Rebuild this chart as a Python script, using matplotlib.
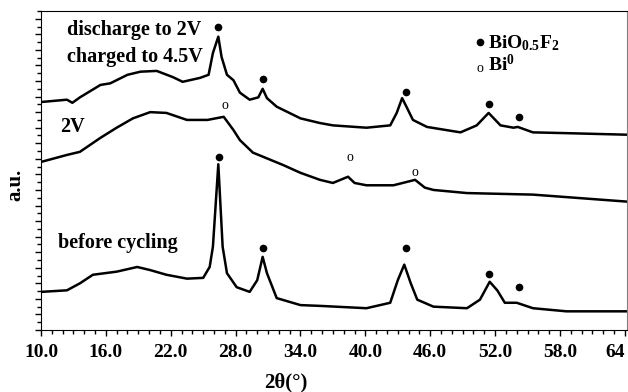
import matplotlib
matplotlib.use("Agg")
import matplotlib.pyplot as plt
import numpy as np
from matplotlib.ticker import MultipleLocator

plt.rcParams["font.family"] = ["Liberation Serif", "DejaVu Serif"]
plt.rcParams["font.weight"] = "bold"
plt.rcParams["mathtext.fontset"] = "custom"
plt.rcParams["mathtext.rm"] = "Liberation Serif:bold"
plt.rcParams["mathtext.bf"] = "Liberation Serif:bold"

# charged to 4.5V (top)
x_top = [10.0, 12.4, 12.9, 13.6, 15.5, 16.4, 18.0, 19.2, 20.7, 22.2, 23.1, 24.7, 25.5,
         25.9, 26.4, 26.7, 27.2, 27.8, 28.4, 29.3, 30.1, 30.5, 30.9, 31.8, 34.0, 35.8,
         37.0, 40.1, 42.3, 42.9, 43.4, 43.8, 44.4, 45.7, 48.8, 50.3, 51.4, 52.5, 53.7,
         54.1, 55.5, 58.6, 64.2]
y_top = [29.3, 29.6, 29.2, 29.9, 31.5, 31.7, 32.8, 33.2, 33.3, 32.5, 31.9, 32.4, 32.8,
         35.6, 37.7, 35.1, 32.8, 32.1, 30.5, 29.6, 29.9, 31.0, 29.8, 28.7, 27.2, 26.6,
         26.3, 26.0, 26.3, 27.9, 29.8, 28.7, 27.0, 26.1, 25.4, 26.3, 27.9, 26.3, 26.0,
         26.1, 25.4, 25.3, 25.1]

# 2V (middle)
x_mid = [10.0, 12.4, 13.6, 15.5, 17.0, 18.5, 20.1, 21.6, 23.5, 25.4, 26.9, 27.8, 28.4,
         29.6, 32.4, 34.0, 35.8, 37.0, 38.4, 39.0, 40.1, 42.6, 44.6, 45.5, 46.3, 49.4,
         55.5, 64.2]
y_mid = [21.6, 22.5, 22.9, 24.7, 26.0, 27.2, 28.0, 27.9, 27.0, 27.0, 27.4, 25.7, 24.4,
         22.8, 21.2, 20.2, 19.3, 18.9, 19.7, 18.9, 18.6, 18.6, 19.3, 18.3, 18.0, 17.6,
         17.4, 16.5]

# before cycling (bottom)
x_bot = [10.0, 12.4, 13.6, 14.8, 17.0, 18.9, 20.1, 21.6, 23.5, 25.0, 25.6, 25.9, 26.4,
         26.8, 27.2, 28.1, 29.3, 30.0, 30.5, 30.9, 31.8, 34.0, 35.8, 40.1, 42.3, 43.0,
         43.6, 44.2, 44.8, 46.3, 49.4, 50.6, 51.5, 52.2, 52.9, 54.0, 55.5, 58.6, 64.2]
y_bot = [4.9, 5.1, 6.0, 7.1, 7.5, 8.1, 7.7, 7.1, 6.6, 6.7, 8.1, 10.7, 21.3,
         10.7, 7.3, 5.5, 4.9, 6.4, 9.4, 7.3, 4.1, 3.2, 3.1, 2.8, 3.5, 6.4,
         8.4, 6.0, 3.9, 3.0, 2.8, 3.9, 6.2, 5.1, 3.5, 3.5, 2.8, 2.4, 2.4]

# BiO0.5F2 peak markers (filled dots)
dot_x = [26.4, 30.5, 43.8, 51.4, 54.2, 26.5, 30.5, 43.8, 51.4, 54.2]
dot_y = [38.9, 32.3, 30.6, 29.0, 27.4, 22.2, 10.5, 10.5, 7.2, 5.5]
# Bi0 markers (letter o)
bi_x = [27.0, 38.6, 44.6]
bi_y = [28.8, 22.2, 20.3]

xticks = [10, 16, 22, 28, 34, 40, 46, 52, 58, 64]
xticklabels = ["10.0", "16.0", "22.0", "28.0", "34.0", "40.0", "46.0", "52.0", "58.0", "64"]

fig = plt.figure(figsize=(6.28, 3.92), dpi=100)
ax = fig.add_axes([41 / 628, 62 / 392, 586 / 628, 319 / 392])

for xs, ys in [(x_top, y_top), (x_mid, y_mid), (x_bot, y_bot)]:
    ax.plot(xs, ys, color="black", lw=1.8)

ax.plot(dot_x, dot_y, "o", color="black", ms=4.5)
for bx, by in zip(bi_x, bi_y):
    ax.text(bx, by, "o", ha="center", va="center", fontsize=10, fontweight="normal")

ax.set_xlim(10, 64.2)
ax.set_ylim(0, 41)
ax.set_xticks(xticks)
ax.set_xticklabels(xticklabels, fontsize=14, fontweight="bold")
ax.get_xticklabels()[-1].set_horizontalalignment("right")
ax.xaxis.set_minor_locator(MultipleLocator(1))
ax.yaxis.set_major_locator(MultipleLocator(2))
ax.yaxis.set_minor_locator(MultipleLocator(1))
ax.set_yticklabels([])
ax.tick_params(axis="both", which="major", direction="out", length=4, width=1)
ax.tick_params(axis="both", which="minor", direction="out", length=3, width=1)
ax.tick_params(axis="x", pad=6)
ax.spines["right"].set_color("gray")

ax.text(12.4, 38.6, "discharge to 2V", fontsize=14.5, fontweight="bold", va="center")
ax.text(12.4, 35.1, "charged to 4.5V", fontsize=14.5, fontweight="bold", va="center")
ax.text(11.8, 26.1, "2V", fontsize=14.5, fontweight="bold", va="center")
ax.text(11.6, 11.2, "before cycling", fontsize=14.5, fontweight="bold", va="center")

ax.plot([50.6], [37.0], "o", color="black", ms=4.5)
ax.text(51.3, 36.2, r"$\mathrm{BiO_{0.5}F_2}$", fontsize=14, va="baseline")
ax.text(50.6, 33.6, "o", ha="center", va="center", fontsize=10, fontweight="normal")
ax.text(51.3, 33.3, r"$\mathrm{Bi^0}$", fontsize=14, va="baseline")

fig.text(286 / 628, 1 - 382 / 392, "2θ(°)", ha="center", va="center", fontsize=15, fontweight="bold")
fig.text(15 / 628, 1 - 185 / 392, "a.u.", ha="center", va="center", rotation=90, fontsize=15,
         fontweight="bold")

fig.savefig("out.png", dpi=100)
